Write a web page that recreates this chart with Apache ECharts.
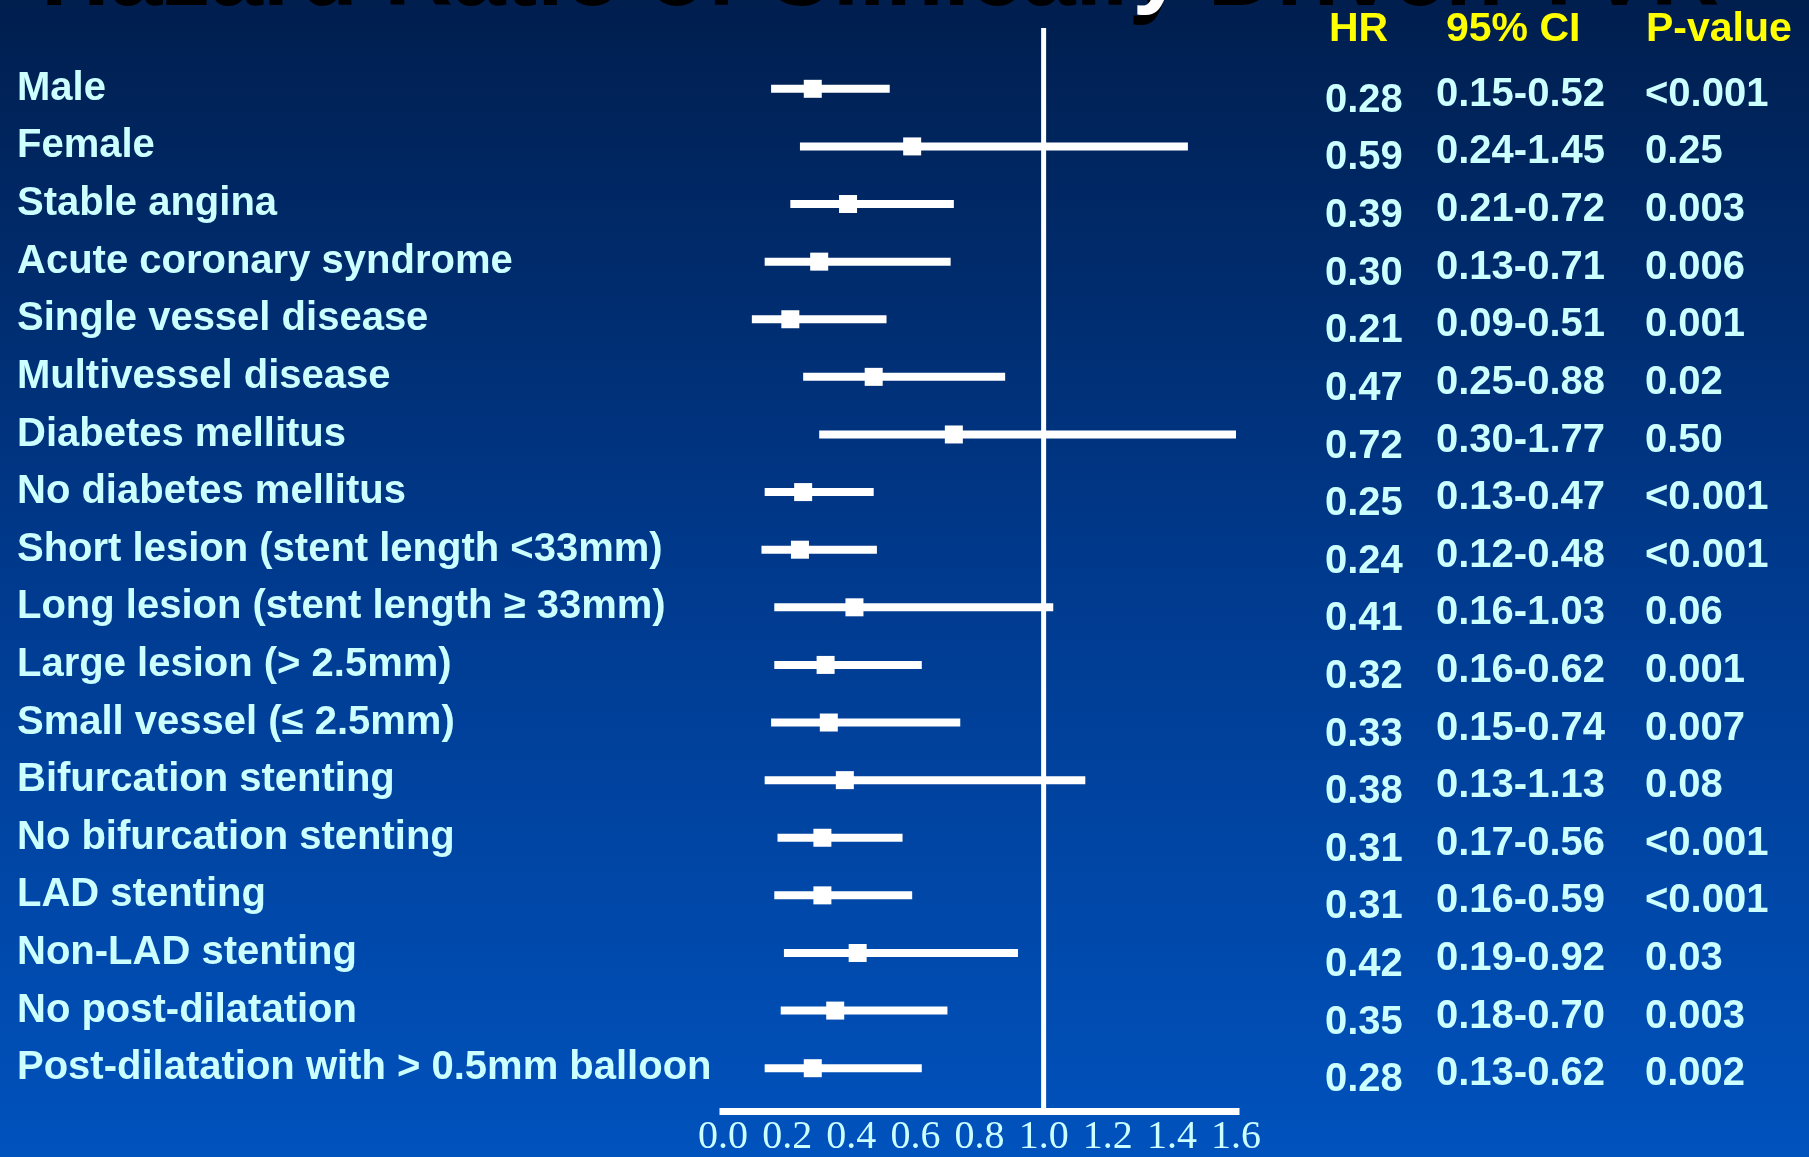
<!DOCTYPE html>
<html>
<head>
<meta charset="utf-8">
<title>Hazard Ratio of Clinically Driven TVR</title>
<script src="https://cdn.jsdelivr.net/npm/echarts@6/dist/echarts.min.js"></script>
<style>
  html, body { margin: 0; padding: 0; background: #00204f; }
  #chart { width: 1809px; height: 1157px; }
</style>
</head>
<body>
<div id="chart"></div>
<script>
// Subgroups, top to bottom
const categories = [
  'Male',
  'Female',
  'Stable angina',
  'Acute coronary syndrome',
  'Single vessel disease',
  'Multivessel disease',
  'Diabetes mellitus',
  'No diabetes mellitus',
  'Short lesion (stent length <33mm)',
  'Long lesion (stent length \u2265 33mm)',
  'Large lesion (> 2.5mm)',
  'Small vessel (\u2264 2.5mm)',
  'Bifurcation stenting',
  'No bifurcation stenting',
  'LAD stenting',
  'Non-LAD stenting',
  'No post-dilatation',
  'Post-dilatation with > 0.5mm balloon'
];

// Hazard ratios and 95% confidence limits
const hrValues = [0.28, 0.59, 0.39, 0.30, 0.21, 0.47, 0.72, 0.25, 0.24, 0.41, 0.32, 0.33, 0.38, 0.31, 0.31, 0.42, 0.35, 0.28];
const ciLower  = [0.15, 0.24, 0.21, 0.13, 0.09, 0.25, 0.30, 0.13, 0.12, 0.16, 0.16, 0.15, 0.13, 0.17, 0.16, 0.19, 0.18, 0.13];
const ciUpper  = [0.52, 1.45, 0.72, 0.71, 0.51, 0.88, 1.77, 0.47, 0.48, 1.03, 0.62, 0.74, 1.13, 0.56, 0.59, 0.92, 0.70, 0.62];
const pValues  = ['<0.001', '0.25', '0.003', '0.006', '0.001', '0.02', '0.50', '<0.001', '<0.001', '0.06',
                  '0.001', '0.007', '0.08', '<0.001', '<0.001', '0.03', '0.003', '0.002'];

// HR axis
const hrAxisMin = 0;
const hrAxisMax = 1.6;
const hrAxisStep = 0.2;
const nullHR = 1.0;

const tableHeaders = ['HR', '95% CI', 'P-value'];

const hrLabels = hrValues.map(v => v.toFixed(2));
const ciLabels = ciLower.map((lo, i) => lo.toFixed(2) + '-' + ciUpper[i].toFixed(2));
const forestData = categories.map((c, i) => [i, ciLower[i], ciUpper[i], hrValues[i]]);

const TEXT = '#ccffff';
const SANS = '"Liberation Sans", Arial, sans-serif';
const SERIF = '"Liberation Serif", "Times New Roman", serif';
const TITLE = 'Hazard Ratio of Clinically Driven TVR';

const chart = echarts.init(document.getElementById('chart'), null, { renderer: 'canvas' });

function renderForest(params, api) {
  const row = api.value(0);
  const lo = api.coord([api.value(1), row]);
  const hi = api.coord([api.value(2), row]);
  const mid = api.coord([api.value(3), row]);
  const cs = params.coordSys;
  const barH = 8;
  const box = 18;
  const bar = echarts.graphic.clipRectByRect(
    { x: lo[0], y: lo[1] - barH / 2, width: hi[0] - lo[0], height: barH },
    { x: cs.x, y: cs.y, width: cs.width, height: cs.height }
  );
  return {
    type: 'group',
    children: [
      bar ? { type: 'rect', shape: bar, style: { fill: '#ffffff' } } : null,
      { type: 'rect', shape: { x: mid[0] - box / 2, y: mid[1] - box / 2, width: box, height: box },
        style: { fill: '#ffffff' } }
    ].filter(Boolean)
  };
}

// One text column of the table, laid out on its own row grid
function tableAxis(labels, gridIndex, margin) {
  return {
    type: 'category',
    gridIndex: gridIndex,
    position: 'right',
    inverse: true,
    data: labels,
    axisLine: { show: false },
    axisTick: { show: false },
    splitLine: { show: false },
    axisLabel: {
      interval: 0,
      align: 'left',
      verticalAlign: 'middle',
      margin: margin,
      color: TEXT,
      fontFamily: SANS,
      fontWeight: 'bold',
      fontSize: 40
    }
  };
}

function headerText(text, x) {
  return { type: 'text', x: x, y: 30, z: 3,
    style: { text: text, font: 'bold 41px ' + SANS, fill: '#ffff00', verticalAlign: 'middle' } };
}

const option = {
  backgroundColor: {
    type: 'linear', x: 0, y: 0, x2: 0, y2: 1,
    colorStops: [
      { offset: 0, color: '#001e4e' },
      { offset: 0.5, color: '#003a8e' },
      { offset: 1, color: '#0052bd' }
    ]
  },
  animation: false,
  graphic: [
    // slide title (shadow then face)
    { type: 'text', x: 41, y: -21, z: 1,
      style: { text: TITLE, font: 'bold 95px ' + SANS, fill: '#000000', verticalAlign: 'middle' } },
    { type: 'text', x: 45, y: -31, z: 2,
      style: { text: TITLE, font: 'bold 95px ' + SANS, fill: '#ffffff', verticalAlign: 'middle' } },
    headerText(tableHeaders[0], 1329),
    headerText(tableHeaders[1], 1446),
    headerText(tableHeaders[2], 1646)
  ],
  grid: [
    // rows of the forest plot and subgroup names
    { left: 723, width: 513, top: 60, height: 1037 },
    // reference line and HR scale
    { left: 723, width: 513, top: 28, height: 1090 },
    // HR column rows
    { left: 723, width: 513, top: 72, height: 1037 },
    // CI and P-value column rows
    { left: 723, width: 513, top: 66, height: 1037 }
  ],
  xAxis: [
    { type: 'value', gridIndex: 0, min: hrAxisMin, max: hrAxisMax, show: false },
    {
      type: 'value', gridIndex: 1, min: hrAxisMin, max: hrAxisMax, interval: hrAxisStep,
      axisLine: { show: true, onZero: false, lineStyle: { color: '#ffffff', width: 7, cap: 'square' } },
      axisTick: { show: false },
      splitLine: { show: false },
      axisLabel: {
        margin: 6,
        color: TEXT,
        fontFamily: SERIF,
        fontSize: 40,
        formatter: v => v.toFixed(1)
      }
    },
    { type: 'value', gridIndex: 2, min: hrAxisMin, max: hrAxisMax, show: false },
    { type: 'value', gridIndex: 3, min: hrAxisMin, max: hrAxisMax, show: false }
  ],
  yAxis: [
    {
      type: 'category',
      gridIndex: 0,
      inverse: true,
      data: categories,
      axisLine: { show: false },
      axisTick: { show: false },
      splitLine: { show: false },
      axisLabel: {
        interval: 0,
        align: 'left',
        verticalAlign: 'middle',
        margin: 706,
        color: TEXT,
        fontFamily: SANS,
        fontWeight: 'bold',
        fontSize: 40
      }
    },
    { type: 'value', gridIndex: 1, min: 0, max: 1, show: false },
    tableAxis(hrLabels, 2, 89),
    tableAxis(ciLabels, 3, 200),
    tableAxis(pValues, 3, 409)
  ],
  series: [
    {
      name: 'No effect',
      type: 'line',
      xAxisIndex: 1,
      yAxisIndex: 1,
      data: [[nullHR, 0], [nullHR, 1]],
      symbol: 'none',
      silent: true,
      z: 1,
      lineStyle: { color: '#ffffff', width: 5 }
    },
    {
      name: 'Hazard ratio',
      type: 'custom',
      xAxisIndex: 0,
      yAxisIndex: 0,
      data: forestData,
      encode: { x: [1, 2, 3], y: 0 },
      renderItem: renderForest,
      silent: true,
      z: 5
    }
  ]
};

chart.setOption(option);
</script>
</body>
</html>
